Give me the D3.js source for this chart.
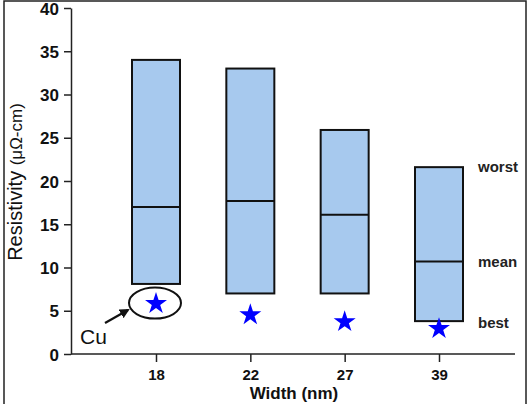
<!DOCTYPE html>
<html><head><meta charset="utf-8">
<script src="https://cdn.jsdelivr.net/npm/d3@7"></script>
<style>body{margin:0;background:#fff}svg{display:block}</style>
</head><body>
<script>
const widths = ["18","22","27","39"];
const worst = [34.0, 33.0, 25.9, 21.6];
const mean = [17.0, 17.7, 16.1, 10.7];
const best = [8.1, 7.0, 7.0, 3.8];
const cu = [6.0, 4.7, 3.9, 3.1];
const yTicks = [0,5,10,15,20,25,30,35,40];
const rowLabels = ["worst","mean","best"];

const W=529,H=404;
const svg=d3.select("body").append("svg").attr("width",W).attr("height",H);
svg.append("rect").attr("x",4).attr("y",1).attr("width",522).attr("height",H+10)
  .attr("fill","none").attr("stroke","#222").attr("stroke-width",1.5);

const y=d3.scaleLinear().domain([0,40]).range([354,8]);
const x=d3.scalePoint().domain(widths).range([156,439]);
const bw=48;
const font="Liberation Sans, Arial, sans-serif";

// y axis
const ya=svg.append("g").attr("transform","translate(71,0)")
  .call(d3.axisLeft(y).tickValues(yTicks).tickSize(7).tickPadding(5).tickSizeOuter(0));
ya.select(".domain").attr("stroke","#222").attr("stroke-width",1.5);
ya.selectAll(".tick line").attr("stroke","#222").attr("stroke-width",1.5);
ya.selectAll("text").attr("font-family",font).attr("font-size",17).attr("font-weight","bold").attr("fill","#111").attr("dy","0.36em");
// x axis
const xa=svg.append("g").attr("transform","translate(0,354)")
  .call(d3.axisBottom(x).tickSize(8).tickPadding(7).tickSizeOuter(0));
xa.select(".domain").attr("d","M71,0H515").attr("stroke","#222").attr("stroke-width",1.5);
xa.selectAll(".tick line").attr("stroke","#222").attr("stroke-width",1.5);
xa.selectAll("text").attr("font-family",font).attr("font-size",15).attr("font-weight","bold").attr("fill","#111");

// bars
const g=svg.append("g");
widths.forEach((w,i)=>{
  g.append("rect").attr("x",x(w)-bw/2).attr("y",y(worst[i])).attr("width",bw)
   .attr("height",y(best[i])-y(worst[i])).attr("fill","#a7c9ee").attr("stroke","#111").attr("stroke-width",2);
  g.append("line").attr("x1",x(w)-bw/2).attr("x2",x(w)+bw/2).attr("y1",y(mean[i])).attr("y2",y(mean[i]))
   .attr("stroke","#111").attr("stroke-width",2);
  g.append("path").attr("d",d3.symbol(d3.symbolStar,150)())
   .attr("transform",`translate(${x(w)},${y(cu[i])+1.5})`).attr("fill","#0000ff");
});

// row labels
const last=widths.length-1;
const lv=[worst[last],mean[last],best[last]];
rowLabels.forEach((t,i)=>{
  svg.append("text").attr("x",478).attr("y",y(lv[i])+(i==2?2:0)).attr("dy","0.35em")
   .attr("font-family",font).attr("font-size",15).attr("font-weight","bold").attr("fill","#222").text(t);
});

// Cu annotation
svg.append("ellipse").attr("cx",x(widths[0])-1).attr("cy",y(cu[0])+1).attr("rx",26).attr("ry",15.5)
  .attr("fill","none").attr("stroke","#111").attr("stroke-width",2);
svg.append("defs").append("marker").attr("id","ah").attr("viewBox","0 0 10 10").attr("refX",8).attr("refY",5)
  .attr("markerWidth",4.5).attr("markerHeight",4.5).attr("orient","auto")
  .append("path").attr("d","M0,0L10,5L0,10z").attr("fill","#111");
svg.append("line").attr("x1",105).attr("y1",323).attr("x2",128).attr("y2",310)
  .attr("stroke","#111").attr("stroke-width",2.2).attr("marker-end","url(#ah)");
svg.append("text").attr("x",80).attr("y",344).attr("font-family",font).attr("font-size",21).attr("fill","#111").text("Cu");

// axis titles
const yt=svg.append("text").attr("transform","translate(22,182) rotate(-90)").attr("text-anchor","middle")
  .attr("font-family",font).attr("font-size",20).attr("fill","#111");
yt.append("tspan").text("Resistivity ");
yt.append("tspan").attr("font-size",17).text("(μΩ-cm)");
svg.append("text").attr("x",294).attr("y",399).attr("text-anchor","middle").attr("font-family",font)
  .attr("font-size",17).attr("font-weight","bold").attr("fill","#111").text("Width (nm)");
</script>
</body></html>
